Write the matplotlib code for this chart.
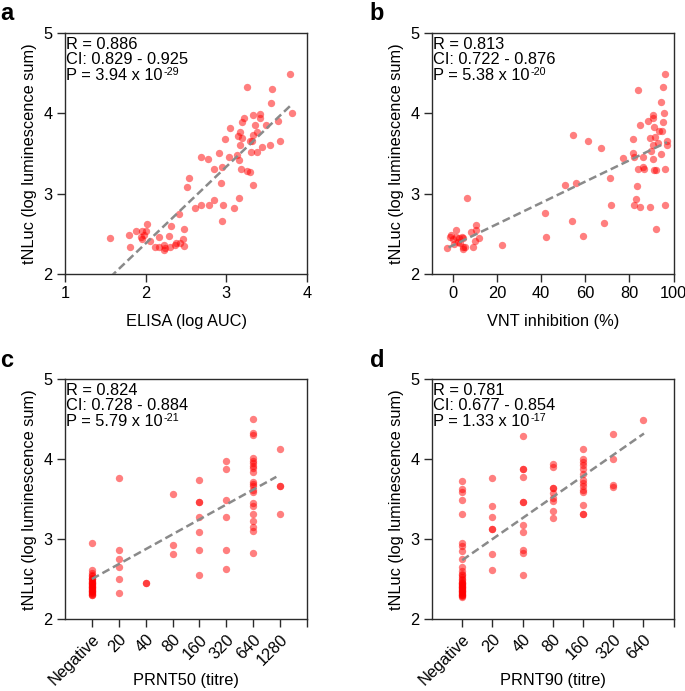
import matplotlib
matplotlib.use("Agg")
from matplotlib import pyplot as plt

plt.rcParams['font.family'] = ['Liberation Sans', 'DejaVu Sans']

# panel a: ELISA (log AUC) vs tNLuc
elisa_x = [3.79, 3.25, 3.56, 3.55, 3.81, 3.33, 3.42, 3.22, 3.42, 3.19, 3.49, 3.64, 3.04, 3.36,
           3.17, 3.38, 3.33, 2.98, 3.14, 3.19, 3.29, 3.32, 3.17, 3.67, 3.54, 3.44, 3.38, 3.31,
           2.91, 3.13, 2.68, 2.77, 3.03, 3.16, 2.85, 2.95, 3.18, 3.26, 3.29, 2.54, 2.93, 2.51,
           3.33, 3.16, 2.85, 2.61, 2.68, 2.79, 2.96, 3.10, 2.95, 2.41, 2.02, 2.32, 2.47, 1.88,
           1.79, 1.96, 2.01, 1.94, 1.96, 1.98, 2.17, 2.29, 1.56, 2.05, 1.80, 2.11, 2.16, 2.23,
           2.24, 2.23, 2.30, 2.36, 2.38, 2.46, 2.47, 2.43]
elisa_y = [4.49, 4.33, 4.30, 4.13, 4.00, 3.975, 3.99, 3.94, 3.94, 3.89, 3.86, 3.90, 3.82, 3.85,
           3.77, 3.77, 3.73, 3.68, 3.72, 3.69, 3.65, 3.65, 3.60, 3.65, 3.60, 3.58, 3.52, 3.52,
           3.50, 3.48, 3.46, 3.43, 3.45, 3.42, 3.31, 3.33, 3.31, 3.28, 3.27, 3.19, 3.13, 3.08,
           3.11, 2.95, 2.92, 2.82, 2.86, 2.86, 2.86, 2.82, 2.66, 2.75, 2.62, 2.60, 2.56, 2.54,
           2.49, 2.54, 2.53, 2.46, 2.44, 2.49, 2.46, 2.47, 2.45, 2.41, 2.34, 2.34, 2.34, 2.36,
           2.32, 2.30, 2.34, 2.36, 2.39, 2.44, 2.35, 2.38]
elisa_fit_x = [1.56, 3.81]
elisa_fit_y = [1.96, 4.11]

# panel b: VNT inhibition (%) vs tNLuc
vnt_x = [96.2, 95.2, 83.7, 94.4, 90.5, 90.6, 95.8, 95.3, 84.7, 88.4, 91.2, 94.7, 93.2, 91.7,
         89.2, 81.4, 92.9, 97.0, 97.0, 90.9, 89.9, 94.4, 81.4, 81.9, 86.1, 77.3, 90.9, 83.8,
         86.2, 86.7, 91.2, 92.0, 96.2, 54.5, 61.3, 67.2, 71.0, 55.9, 50.8, 83.5, 82.8, 81.9,
         84.6, 89.2, 95.9, 71.6, 41.7, 53.8, 68.3, 92.2, 42.3, 58.9, 22.4, 6.3, 1.5, 10.6,
         8.2, 10.6, 11.8, -0.9, -1.5, 0.0, 1.5, 2.7, 3.9, 2.1, 4.5, 4.5, 4.5, 5.6, 9.1, 10.1,
         -2.7, 0.3, 3.0]
vnt_y = [4.49, 4.33, 4.29, 4.14, 3.98, 3.94, 4.00, 3.89, 3.86, 3.90, 3.83, 3.78, 3.78, 3.71,
         3.69, 3.68, 3.63, 3.66, 3.61, 3.61, 3.53, 3.49, 3.51, 3.46, 3.46, 3.44, 3.43, 3.31,
         3.33, 3.31, 3.29, 3.29, 3.31, 3.73, 3.65, 3.57, 3.19, 3.13, 3.11, 3.09, 2.93, 2.86,
         2.83, 2.83, 2.86, 2.86, 2.76, 2.66, 2.63, 2.56, 2.46, 2.47, 2.36, 2.95, 2.55, 2.61,
         2.52, 2.55, 2.45, 2.49, 2.46, 2.44, 2.46, 2.45, 2.46, 2.40, 2.45, 2.34, 2.31, 2.34,
         2.34, 2.41, 2.32, 2.37, 2.38]
vnt_fit_x = [-2.0, 97.0]
vnt_fit_y = [2.33, 3.64]

# panel c: PRNT50 titre vs tNLuc (one list per titre)
prnt50_labels = ['Negative', '20', '40', '80', '160', '320', '640', '1280']
prnt50_vals = [
    [2.95, 2.62, 2.58, 2.56, 2.54, 2.52, 2.51, 2.50, 2.48, 2.47, 2.46, 2.45, 2.44, 2.43,
     2.42, 2.41, 2.40, 2.39, 2.38, 2.37, 2.36, 2.35, 2.34, 2.33, 2.32, 2.31, 2.30],
    [3.77, 2.87, 2.76, 2.66, 2.51, 2.33],
    [2.46, 2.46],
    [3.57, 2.93, 2.82],
    [3.74, 3.47, 3.47, 3.28, 3.09, 2.87, 2.555],
    [3.98, 3.88, 3.49, 3.28, 2.87, 2.63],
    [4.50, 4.33, 4.30, 4.01, 3.98, 3.95, 3.92, 3.89, 3.84, 3.72, 3.69, 3.66, 3.62, 3.59,
     3.45, 3.42, 3.32, 3.23, 3.15, 3.11, 2.83],
    [4.13, 3.67, 3.67, 3.32],
]
prnt50_fit_x = [0, 6.86]
prnt50_fit_y = [2.505, 3.78]

# panel d: PRNT90 titre vs tNLuc
prnt90_labels = ['Negative', '20', '40', '80', '160', '320', '640']
prnt90_vals = [
    [3.73, 3.63, 3.59, 3.49, 3.31, 2.95, 2.92, 2.86, 2.76, 2.66, 2.61, 2.57, 2.55, 2.53,
     2.51, 2.49, 2.47, 2.46, 2.45, 2.44, 2.43, 2.42, 2.41, 2.40, 2.39, 2.38, 2.37, 2.36,
     2.35, 2.34, 2.33, 2.32, 2.31, 2.30, 2.29, 2.28],
    [3.77, 3.42, 3.28, 3.13, 3.13, 2.82, 2.62],
    [4.29, 3.88, 3.88, 3.78, 3.46, 3.46, 3.18, 3.09, 2.87, 2.83, 2.55],
    [3.94, 3.90, 3.64, 3.64, 3.58, 3.51, 3.48, 3.35, 3.27],
    [4.13, 4.00, 3.96, 3.93, 3.88, 3.82, 3.74, 3.70, 3.67, 3.61, 3.59, 3.43, 3.31, 3.31],
    [4.32, 4.00, 3.68, 3.65],
    [4.49],
]
prnt90_fit_x = [0, 6.02]
prnt90_fit_y = [2.74, 4.32]

# R, CI, P mantissa, P exponent
stats = {
    'a': ('R = 0.886', 'CI: 0.829 - 0.925', 'P = 3.94 x 10', '-29'),
    'b': ('R = 0.813', 'CI: 0.722 - 0.876', 'P = 5.38 x 10', '-20'),
    'c': ('R = 0.824', 'CI: 0.728 - 0.884', 'P = 5.79 x 10', '-21'),
    'd': ('R = 0.781', 'CI: 0.677 - 0.854', 'P = 1.33 x 10', '-17'),
}

fs = 11.8
dot_color = 'red'
spine_color = '#2b2b2b'
fit_color = '#8a8a8a'
fit_ls = (0, (3.2, 1.6))

fig = plt.figure(figsize=(6.85, 6.91), dpi=100)
ax_a = fig.add_axes([0.0949, 0.6035, 0.3533, 0.3488])
ax_b = fig.add_axes([0.6307, 0.6035, 0.3526, 0.3488])
ax_c = fig.add_axes([0.0949, 0.1035, 0.3533, 0.3480])
ax_d = fig.add_axes([0.6307, 0.1035, 0.3526, 0.3480])

p_texts = []


def style(ax, letter):
    ax.set_ylim(2, 5)
    ax.set_yticks([2, 3, 4, 5])
    for s in ax.spines.values():
        s.set_color(spine_color)
        s.set_linewidth(1.0)
    ax.tick_params(direction='out', length=6, width=1.0, color=spine_color,
                   labelsize=fs, pad=3)
    ax.set_ylabel('tNLuc (log luminescence sum)', fontsize=fs, labelpad=4.5)
    r, ci, p, expo = stats[letter]
    for i, line in enumerate([r, ci, p]):
        t = ax.annotate(line, xy=(0, 1), xycoords='axes fraction',
                        xytext=(1.0, -11.3 - 11.3 * i), textcoords='offset points',
                        fontsize=fs, ha='left', va='baseline')
    p_texts.append((ax, t, expo))


def scatter_cats(ax, vals):
    xs, ys = [], []
    for i, v in enumerate(vals):
        xs += [i] * len(v)
        ys += v
    ax.scatter(xs, ys, s=28, color=dot_color, alpha=0.5, linewidths=0, zorder=2)


# a
ax_a.scatter(elisa_x, elisa_y, s=28, color=dot_color, alpha=0.5, linewidths=0, zorder=2)
ax_a.plot(elisa_fit_x, elisa_fit_y, color=fit_color, lw=1.8, ls=fit_ls, zorder=3)
ax_a.set_xlim(1, 4)
ax_a.set_xticks([1, 2, 3, 4])
ax_a.set_xlabel('ELISA (log AUC)', fontsize=fs)
ax_a.xaxis.set_label_coords(0.5, -0.168)
style(ax_a, 'a')

# b
ax_b.scatter(vnt_x, vnt_y, s=28, color=dot_color, alpha=0.5, linewidths=0, zorder=2)
ax_b.plot(vnt_fit_x, vnt_fit_y, color=fit_color, lw=1.8, ls=fit_ls, zorder=3)
ax_b.set_xlim(-9.5, 100)
ax_b.set_xticks([0, 20, 40, 60, 80, 100])
ax_b.set_xlabel('VNT inhibition (%)', fontsize=fs)
ax_b.xaxis.set_label_coords(0.5, -0.168)
style(ax_b, 'b')

# c
scatter_cats(ax_c, prnt50_vals)
ax_c.plot(prnt50_fit_x, prnt50_fit_y, color=fit_color, lw=1.8, ls=fit_ls, zorder=3)
ax_c.set_xlim(-1, len(prnt50_labels))
ax_c.set_xticks(range(len(prnt50_labels) + 1))
ax_c.set_xticklabels(prnt50_labels + [''], rotation=45, ha='right', rotation_mode='anchor')
ax_c.set_xlabel('PRNT50 (titre)', fontsize=fs)
ax_c.xaxis.set_label_coords(0.5, -0.222)
style(ax_c, 'c')

# d
scatter_cats(ax_d, prnt90_vals)
ax_d.plot(prnt90_fit_x, prnt90_fit_y, color=fit_color, lw=1.8, ls=fit_ls, zorder=3)
ax_d.set_xlim(-1, len(prnt90_labels))
ax_d.set_xticks(range(len(prnt90_labels) + 1))
ax_d.set_xticklabels(prnt90_labels + [''], rotation=45, ha='right', rotation_mode='anchor')
ax_d.set_xlabel('PRNT90 (titre)', fontsize=fs)
ax_d.xaxis.set_label_coords(0.5, -0.222)
style(ax_d, 'd')

for lab, x, y in [('a', 0.0, 0.971), ('b', 0.54, 0.971), ('c', 0.0, 0.469), ('d', 0.54, 0.469)]:
    fig.text(x, y, lab, fontsize=17, fontweight='bold', ha='left', va='baseline')

# small raised exponent after "10", placed from the measured width of the P line
fig.canvas.draw()
renderer = fig.canvas.get_renderer()
for ax, t, expo in p_texts:
    w_pt = t.get_window_extent(renderer).width * 72 / fig.dpi
    ax.annotate(expo, xy=(0, 1), xycoords='axes fraction',
                xytext=(1.0 + w_pt + 0.3, -33.9 + 3.8), textcoords='offset points',
                fontsize=fs * 0.66, ha='left', va='baseline')

fig.savefig('out.png', dpi=100)
